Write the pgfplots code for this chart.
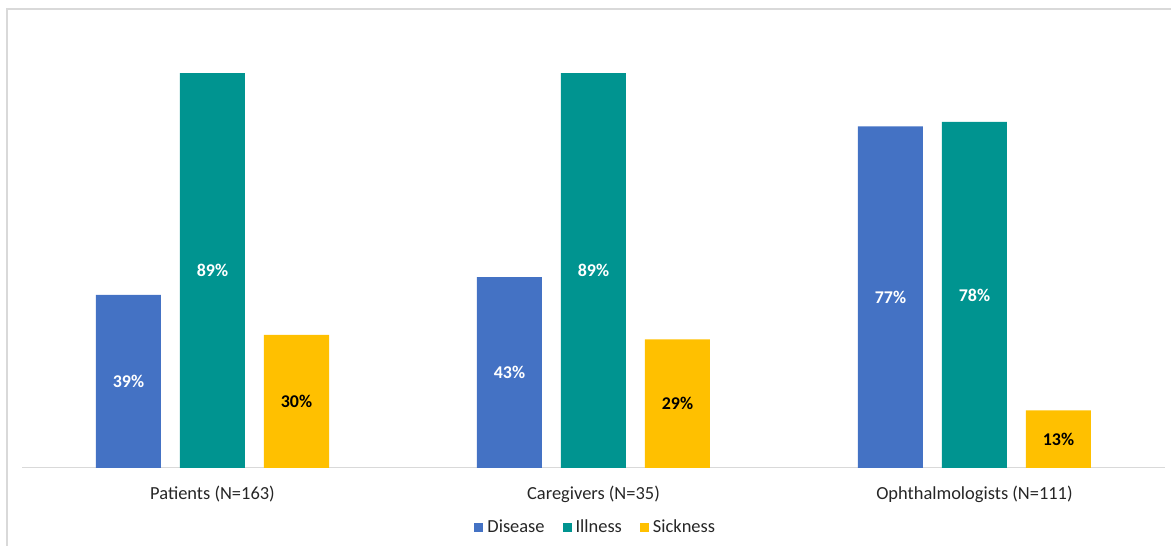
\documentclass[border=0pt]{standalone}
\usepackage{pgfplots}
\pgfplotsset{compat=1.18}
\usepackage{fontspec}
\setmainfont{Carlito}

\definecolor{disease}{HTML}{4472C4}
\definecolor{illness}{HTML}{009490}
\definecolor{sickness}{HTML}{FFC000}
\definecolor{framegray}{HTML}{D9D9D9}

\begin{document}
\begin{tikzpicture}[x=1bp,y=1bp]
\useasboundingbox (0,0) rectangle (1171,546);
\draw[framegray, line width=1.2bp] (7,-20) rectangle (1190,537);
\begin{axis}[
  at={(22bp,78bp)}, anchor=south west,
  scale only axis, width=1143bp, height=443.8bp,
  xmin=-0.5, xmax=2.5, ymin=0, ymax=100,
  clip=false,
  ybar, bar width=65bp,
  axis x line*=bottom, axis y line=none,
  x axis line style={draw=framegray, line width=1bp, -},
  xtick={0,1,2},
  xticklabels={Patients (N=163), Caregivers (N=35), Ophthalmologists (N=111)},
  major tick length=0pt, xtick style={draw=none},
  ytick=\empty,
  xticklabel style={font=\fontsize{18.5}{21}\selectfont, text=black!85, anchor=base, yshift=-32bp},
  /pgf/number format/assume math mode=true,
  visualization depends on={y \as \rawy},
  nodes near coords={\pgfmathprintnumber{\pgfplotspointmeta}\%},
  nodes near coords style={font=\bfseries\fontsize{18}{21}\selectfont, anchor=center, yshift=-\rawy*2.219bp},
  legend columns=3,
  legend style={at={(0.502,-0.133)}, anchor=center, draw=none, fill=none,
    font=\fontsize{18.5}{21}\selectfont, text=black!85,
    /tikz/every odd column/.append style={column sep=2bp},
    /tikz/every even column/.append style={column sep=16bp}},
  legend image code/.code={\fill[#1] (0bp,-4.5bp) rectangle (9bp,4.5bp);},
]
% Share of respondents using each term, by group
\addplot[fill=disease, draw=none, bar shift=-84bp,
  every node near coord/.append style={text=white}]
  coordinates {(0,39) (1,43) (2,77)};
\addplot[fill=illness, draw=none, bar shift=0bp,
  every node near coord/.append style={text=white}]
  coordinates {(0,89) (1,89) (2,78)};
\addplot[fill=sickness, draw=none, bar shift=84bp,
  every node near coord/.append style={text=black}]
  coordinates {(0,30) (1,29) (2,13)};
\legend{Disease, Illness, Sickness}
\end{axis}
\end{tikzpicture}
\end{document}
